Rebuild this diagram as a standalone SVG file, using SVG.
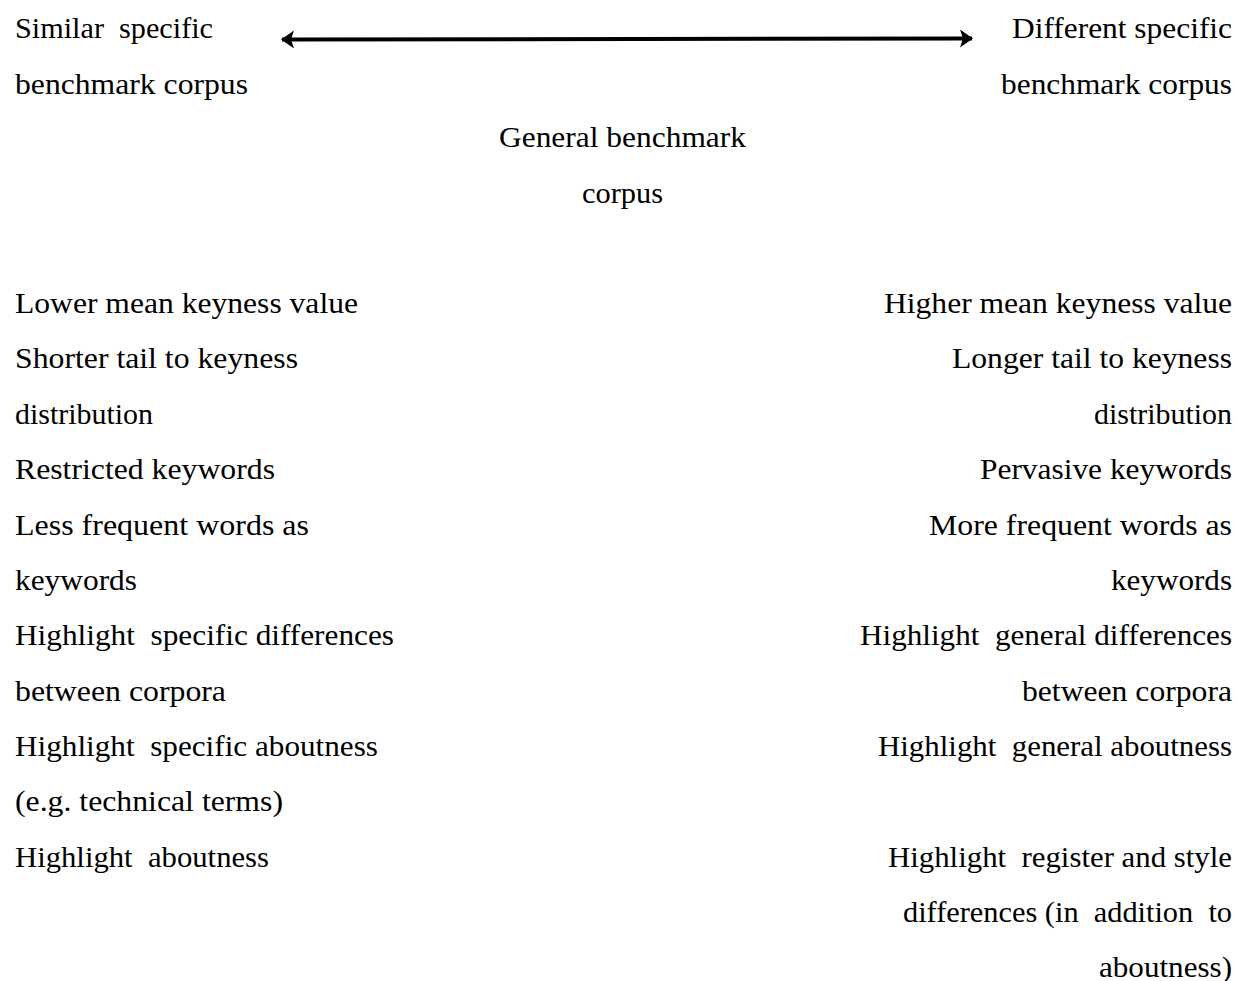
<svg xmlns="http://www.w3.org/2000/svg" width="1238" height="981" viewBox="0 0 1238 981">
<style>
.t text{font-family:"Liberation Serif","Times New Roman",serif;font-size:29px;fill:#000;white-space:pre}
</style>
<defs>
<marker id="ah" viewBox="0 0 13 18" refX="12" refY="9" markerWidth="13" markerHeight="18" markerUnits="userSpaceOnUse" orient="auto-start-reverse">
<path d="M0,0 L13,9 L0,18 L3,9 Z" fill="#000"/>
</marker>
</defs>
<rect width="1238" height="981" fill="#fff"/>
<g id="connectors">
<line x1="282" y1="39.5" x2="972" y2="38.5" stroke="#000" stroke-width="4" marker-start="url(#ah)" marker-end="url(#ah)"/>
</g>
<g class="t" xml:space="preserve">
<g id="similar">
<text x="15" y="38" textLength="198" lengthAdjust="spacingAndGlyphs">Similar  specific</text>
<text x="15" y="94" textLength="233" lengthAdjust="spacingAndGlyphs">benchmark corpus</text>
</g>
<g id="different">
<text x="1012" y="38" textLength="220" lengthAdjust="spacingAndGlyphs">Different specific</text>
<text x="1001" y="94" textLength="231" lengthAdjust="spacingAndGlyphs">benchmark corpus</text>
</g>
<g id="general">
<text x="499" y="147" textLength="247" lengthAdjust="spacingAndGlyphs">General benchmark</text>
<text x="582" y="203" textLength="81" lengthAdjust="spacingAndGlyphs">corpus</text>
</g>
<g id="left-list">
<text x="15" y="313" textLength="343" lengthAdjust="spacingAndGlyphs">Lower mean keyness value</text>
<text x="15" y="368" textLength="283" lengthAdjust="spacingAndGlyphs">Shorter tail to keyness</text>
<text x="15" y="424" textLength="138" lengthAdjust="spacingAndGlyphs">distribution</text>
<text x="15" y="479" textLength="260" lengthAdjust="spacingAndGlyphs">Restricted keywords</text>
<text x="15" y="535" textLength="294" lengthAdjust="spacingAndGlyphs">Less frequent words as</text>
<text x="15" y="590" textLength="122" lengthAdjust="spacingAndGlyphs">keywords</text>
<text x="15" y="645" textLength="379" lengthAdjust="spacingAndGlyphs">Highlight  specific differences</text>
<text x="15" y="701" textLength="211" lengthAdjust="spacingAndGlyphs">between corpora</text>
<text x="15" y="756" textLength="363" lengthAdjust="spacingAndGlyphs">Highlight  specific aboutness</text>
<text x="15" y="811" textLength="268" lengthAdjust="spacingAndGlyphs">(e.g. technical terms)</text>
<text x="15" y="867" textLength="254" lengthAdjust="spacingAndGlyphs">Highlight  aboutness</text>
</g>
<g id="right-list">
<text x="884" y="313" textLength="348" lengthAdjust="spacingAndGlyphs">Higher mean keyness value</text>
<text x="952" y="368" textLength="280" lengthAdjust="spacingAndGlyphs">Longer tail to keyness</text>
<text x="1094" y="424" textLength="138" lengthAdjust="spacingAndGlyphs">distribution</text>
<text x="980" y="479" textLength="252" lengthAdjust="spacingAndGlyphs">Pervasive keywords</text>
<text x="929" y="535" textLength="303" lengthAdjust="spacingAndGlyphs">More frequent words as</text>
<text x="1111" y="590" textLength="121" lengthAdjust="spacingAndGlyphs">keywords</text>
<text x="860" y="645" textLength="372" lengthAdjust="spacingAndGlyphs">Highlight  general differences</text>
<text x="1022" y="701" textLength="210" lengthAdjust="spacingAndGlyphs">between corpora</text>
<text x="878" y="756" textLength="354" lengthAdjust="spacingAndGlyphs">Highlight  general aboutness</text>
<text x="888" y="867" textLength="344" lengthAdjust="spacingAndGlyphs">Highlight  register and style</text>
<text x="903" y="922" textLength="329" lengthAdjust="spacingAndGlyphs">differences (in  addition  to</text>
<text x="1099" y="977" textLength="133" lengthAdjust="spacingAndGlyphs">aboutness)</text>
</g>
</g>
</svg>
